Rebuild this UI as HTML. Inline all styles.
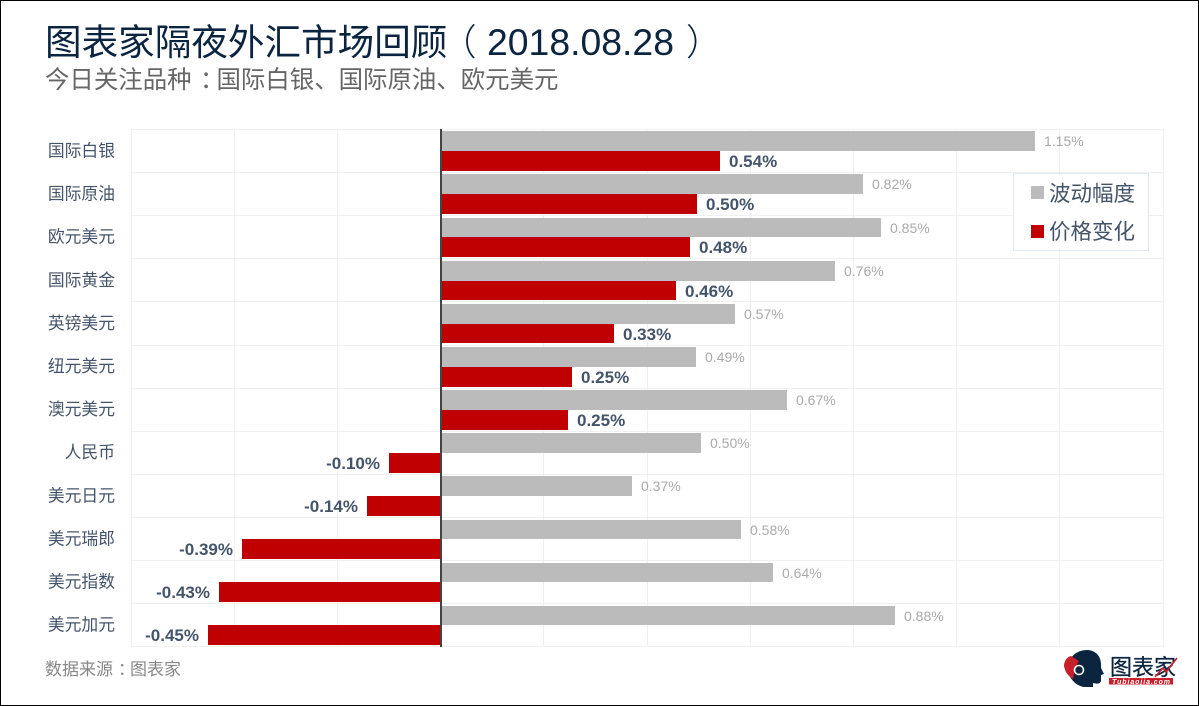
<!DOCTYPE html>
<html lang="zh">
<head>
<meta charset="utf-8">
<title>图表家隔夜外汇市场回顾</title>
<style>
html,body{margin:0;padding:0;background:#fff;}
#page{position:relative;width:1199px;height:706px;overflow:hidden;background:#fff;box-sizing:border-box;border:1px solid #000;font-family:"Liberation Sans","Noto Sans CJK SC",sans-serif;}
#chart{position:absolute;left:-1px;top:-1px;}
text{font-family:"Liberation Sans","Noto Sans CJK SC",sans-serif;}
</style>
</head>
<body>
<div id="page">
<svg id="chart" width="1199" height="706" viewBox="0 0 1199 706" xmlns="http://www.w3.org/2000/svg">
  <text y="55" font-size="36.6" fill="#0b2440"><tspan x="45">图表家隔夜外汇市场回顾</tspan><tspan x="440" font-weight="300">（</tspan><tspan x="487" font-size="36.6" textLength="187" lengthAdjust="spacingAndGlyphs">2018.08.28</tspan><tspan x="686" font-weight="300">）</tspan></text>
  <text y="88" font-size="24.43" fill="#666666"><tspan x="45">今日关注品种</tspan><tspan x="200">：</tspan><tspan x="216.5">国际白银、国际原油、欧元美元</tspan></text>
  <g id="grid"></g>
  <g id="bars"></g>
  <g id="labels"></g>
  <g id="values"></g>
  <line id="zero" stroke="#444444" stroke-width="2"></line>
  <g>
    <rect x="1013.5" y="173.5" width="135" height="77" fill="#ffffff" stroke="#dfe9f3"/>
    <rect x="1031" y="186" width="13" height="13" fill="#bbbbbb"/>
    <text x="1049" y="201" font-size="21.5" fill="#44546a">波动幅度</text>
    <rect x="1031" y="225" width="13" height="13" fill="#c00000"/>
    <text x="1049" y="239" font-size="21.5" fill="#44546a">价格变化</text>
  </g>
  <text y="675" font-size="17" fill="#888888"><tspan x="45">数据来源</tspan><tspan x="118">：</tspan><tspan x="130">图表家</tspan></text>
  <g>
    <path d="M1069 662 C1072 654 1079 650 1087 650 C1096 650 1101 657 1101 664 L1101 668 L1104 674 L1101 675 L1101 681 C1100 684 1097 684 1093 683 L1093 687 L1084 687 C1077 686 1072 681 1069 675 Z" fill="#0b2440"/>
    <path d="M1064 666 C1064 661 1067 657 1071 656 L1079 661 L1075 668 L1073 679 C1068 676 1065 672 1064 666 Z" fill="#c8202a"/>
    <circle cx="1079" cy="670" r="4.5" fill="#0b2440" stroke="#ffffff" stroke-width="1.6"/>
    <text x="1110" y="675" font-size="22" fill="#0b2440" stroke="#0b2440" stroke-width="0.3" textLength="66" lengthAdjust="spacingAndGlyphs">图表家</text>
    <rect x="1109" y="678" width="64" height="6.5" fill="#c8202a"/>
    <text x="1112" y="684" font-size="7" font-weight="700" font-style="italic" fill="#ffffff" textLength="58">Tubiaojia.com</text>
    <path d="M1155 677 L1163 668 L1166 672 L1177 658" fill="none" stroke="#c8202a" stroke-width="1.6"/>
  </g>
</svg>
</div>
<script>
var categories = ["国际白银","国际原油","欧元美元","国际黄金","英镑美元","纽元美元","澳元美元","人民币","美元日元","美元瑞郎","美元指数","美元加元"];
var rangeValues = [1.151,0.818,0.853,0.764,0.570,0.494,0.671,0.504,0.370,0.581,0.643,0.880];
var changeValues = [0.541,0.496,0.483,0.455,0.335,0.254,0.246,-0.101,-0.143,-0.386,-0.430,-0.452];
var rangeLabels = ["1.15%","0.82%","0.85%","0.76%","0.57%","0.49%","0.67%","0.50%","0.37%","0.58%","0.64%","0.88%"];
var changeLabels = ["0.54%","0.50%","0.48%","0.46%","0.33%","0.25%","0.25%","-0.10%","-0.14%","-0.39%","-0.43%","-0.45%"];
var xTicks = [-0.6,-0.4,-0.2,0,0.2,0.4,0.6,0.8,1.0,1.2,1.4];

var SVGNS = "http://www.w3.org/2000/svg";
var plotLeft = 131.5, plotRight = 1163.5, plotTop = 129.5, plotBottom = 646.7;
var xMin = -0.6, xMax = 1.4;
function xScale(v){ return plotLeft + (v - xMin) / (xMax - xMin) * (plotRight - plotLeft); }
function bandTop(i){ return plotTop + i * (plotBottom - plotTop) / categories.length; }
function barTop(i){ return Math.round(131.2 + i * 43.15); }
function barMid(i){ return Math.round(151.2 + i * 43.1); }
function barEnd(i){ return Math.round(171 + i * 43.1); }
function make(tag, attrs, parent){
  var el = document.createElementNS(SVGNS, tag);
  for (var k in attrs) el.setAttribute(k, attrs[k]);
  parent.appendChild(el);
  return el;
}
var gridG = document.getElementById("grid");
var barsG = document.getElementById("bars");
var labelsG = document.getElementById("labels");
var valuesG = document.getElementById("values");

xTicks.forEach(function(t){
  var px = Math.floor(xScale(t) - 0.35) + 0.5;
  var line = make("line", {x1:px, x2:px, y1:plotTop, y2:Math.floor(plotBottom) + 0.5, stroke:"#f0f0f0", "stroke-width":1}, gridG);
  
  
});
for (var g = 0; g <= categories.length; g++){
  var gy = Math.floor(bandTop(g)) + 0.5;
  var hl = make("line", {x1:plotLeft, x2:plotRight, y1:gy, y2:gy, stroke:"#f0f0f0", "stroke-width":1}, gridG);
  
  
}

categories.forEach(function(name, i){
  var top = barTop(i);
  var mid = barMid(i);
  var end = barEnd(i);
  var x0 = Math.round(xScale(0));

  var cat = make("text", {x:115, y:bandTop(i) + 27, "text-anchor":"end", "font-size":16.8, fill:"#44546a"}, labelsG);
  cat.textContent = name;
  
  

  var rx = Math.round(xScale(rangeValues[i]));
  var rb = make("rect", {x:x0, y:top, width:rx - x0, height:mid - top, fill:"#bbbbbb"}, barsG);
  
  

  var rl = make("text", {x:rx + 9, y:top + 15, "font-size":14, fill:"#aaaaaa"}, valuesG);
  rl.textContent = rangeLabels[i];
  
  

  var c = changeValues[i];
  var cx = Math.round(xScale(c));
  var cb = make("rect", {x:Math.min(x0, cx), y:mid, width:Math.abs(cx - x0), height:end - mid, fill:"#c00000"}, barsG);
  
  

  var cl = make("text", {x:c >= 0 ? cx + 9 : cx - 9, y:mid + 16, "text-anchor":c >= 0 ? "start" : "end", "font-size":17, "font-weight":700, fill:"#44546a"}, valuesG);
  cl.textContent = changeLabels[i];
  
  
});

var z = document.getElementById("zero");
z.setAttribute("x1", Math.round(xScale(0)));
z.setAttribute("x2", Math.round(xScale(0)));
z.setAttribute("y1", 129);
z.setAttribute("y2", 647);
</script>
</body>
</html>
